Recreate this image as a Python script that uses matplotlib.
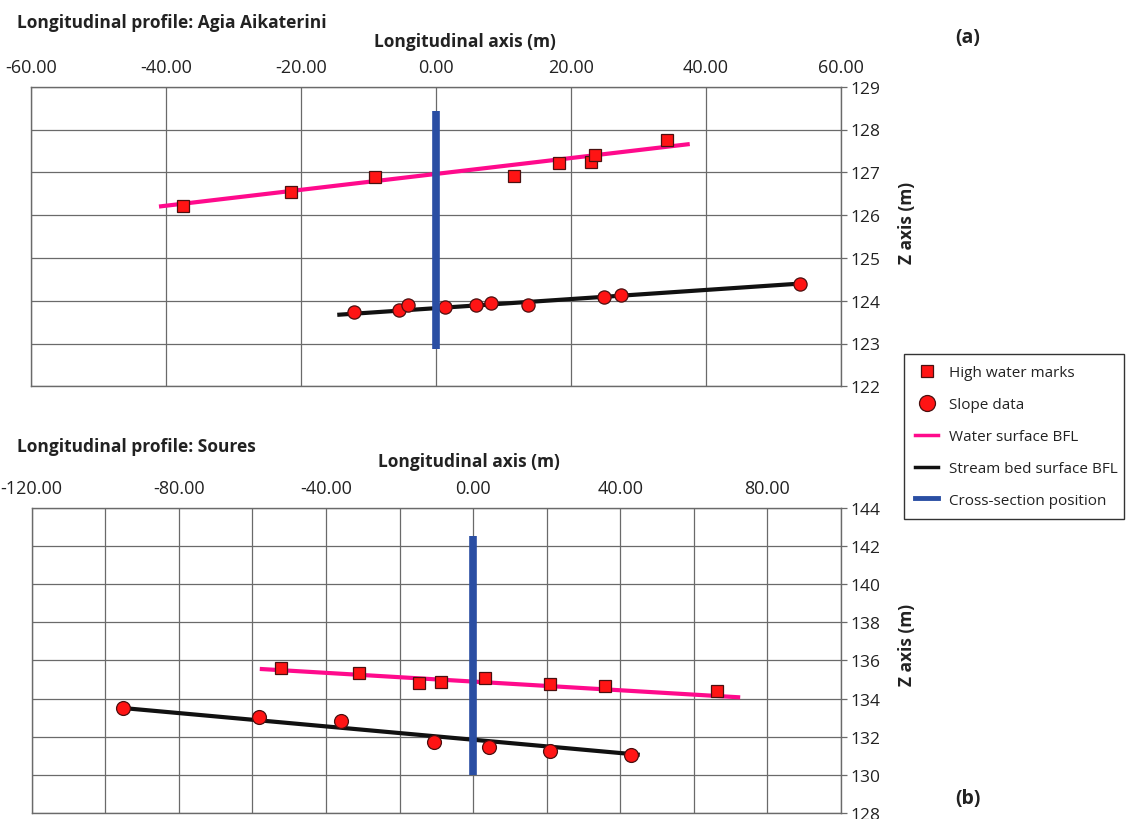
import matplotlib
matplotlib.use("Agg")
import matplotlib.pyplot as plt
from matplotlib.lines import Line2D
from matplotlib.ticker import FormatStrFormatter

plt.rcParams['font.family'] = ['Open Sans', 'DejaVu Sans']
plt.rcParams['axes.unicode_minus'] = False

# Agia Aikaterini (a)
hwm_a_x = [-37.5, -21.5, -9.0, 11.6, 18.3, 23.0, 23.5, 34.3]
hwm_a_z = [126.21, 126.55, 126.90, 126.91, 127.22, 127.23, 127.40, 127.76]
slope_a_x = [-12.1, -5.5, -4.1, 1.4, 5.9, 8.2, 13.6, 24.9, 27.4, 53.9]
slope_a_z = [123.73, 123.79, 123.90, 123.85, 123.90, 123.95, 123.90, 124.08, 124.13, 124.38]
ws_a_x = [-41.0, 37.6]
ws_a_z = [126.20, 127.66]
bed_a_x = [-14.6, 54.9]
bed_a_z = [123.67, 124.41]
xs_a_z = [122.87, 128.44]

# Soures (b)
hwm_b_x = [-52.3, -31.0, -14.7, -8.8, 3.1, 20.8, 35.8, 66.2]
hwm_b_z = [135.58, 135.32, 134.80, 134.85, 135.06, 134.74, 134.64, 134.41]
slope_b_x = [-95.1, -58.2, -35.8, -10.7, 4.3, 20.8, 43.0]
slope_b_z = [133.50, 133.01, 132.80, 131.70, 131.44, 131.26, 131.05]
ws_b_x = [-58.0, 72.6]
ws_b_z = [135.55, 134.06]
bed_b_x = [-95.1, 45.3]
bed_b_z = [133.50, 131.05]
xs_b_z = [130.0, 142.5]

RED = '#ff1414'
EDGE = '#4a1010'
PINK = '#ff0a8c'
BLUE = '#2a4ea3'
GRID = '#6a6a6a'

W, H = 1126, 820
fig = plt.figure(figsize=(W / 100, H / 100), dpi=100, facecolor='white')


def px_axes(left, top, right, bottom):
    return fig.add_axes([left / W, 1 - bottom / H, (right - left) / W, (bottom - top) / H])


def style_axes(ax, xlim, ylim, xmajor, xminor, yticks):
    ax.set_xlim(*xlim)
    ax.set_ylim(*ylim)
    ax.xaxis.tick_top()
    ax.yaxis.tick_right()
    ax.set_xticks(xmajor)
    ax.set_xticks(xminor, minor=True)
    ax.set_yticks(yticks)
    ax.xaxis.set_major_formatter(FormatStrFormatter('%.2f'))
    ax.tick_params(axis='x', which='both', length=0, pad=8, labelsize=13, colors='#222222')
    ax.tick_params(axis='y', length=4, width=0.9, color=GRID, pad=3, labelsize=12.5,
                   labelcolor='#222222')
    ax.grid(True, which='both', color=GRID, lw=0.9, zorder=0)
    ax.set_axisbelow(True)
    for s in ax.spines.values():
        s.set_color(GRID)
        s.set_linewidth(1.0)


def draw_profile(ax, hx, hz, sx, sz, wx, wz, bx, bz, xz, sq_ms, ci_ms):
    ax.plot(wx, wz, color=PINK, lw=3.0, solid_capstyle='butt', zorder=2)
    ax.plot(bx, bz, color='#111111', lw=3.0, solid_capstyle='butt', zorder=2)
    ax.plot(hx, hz, 's', ms=sq_ms, mfc=RED, mec=EDGE, mew=0.9, zorder=3)
    ax.plot(sx, sz, 'o', ms=ci_ms, mfc=RED, mec=EDGE, mew=0.9, zorder=3)
    ax.plot([0, 0], xz, color=BLUE, lw=5.5, solid_capstyle='butt', zorder=4)


label_font = dict(fontsize=12.5, fontweight='bold', color='#222222')

# panel (a)
ax1 = px_axes(30.7, 87.7, 841, 387.3)
style_axes(ax1, (-60, 60), (122, 129), range(-60, 61, 20), [], range(122, 130))
draw_profile(ax1, hwm_a_x, hwm_a_z, slope_a_x, slope_a_z, ws_a_x, ws_a_z,
             bed_a_x, bed_a_z, xs_a_z, 9, 9.5)
ax1.set_xlabel('Longitudinal axis (m)', **label_font)
ax1.xaxis.set_label_position('top')
ax1.xaxis.set_label_coords((465 - 30.7) / 810.3, 1 + (87.7 - 41.7) / 299.6)
ax1.xaxis.label.set_va('center')
ax1.set_ylabel('Z axis (m)', **label_font)
ax1.yaxis.set_label_position('right')
ax1.yaxis.set_label_coords((907 - 30.7) / 810.3, (387.3 - 223) / 299.6)
ax1.yaxis.label.set_va('center')

# panel (b)
ax2 = px_axes(31.7, 508.7, 841, 814)
style_axes(ax2, (-120, 100), (128, 144), range(-120, 81, 40), range(-100, 101, 40),
           range(128, 145, 2))
draw_profile(ax2, hwm_b_x, hwm_b_z, slope_b_x, slope_b_z, ws_b_x, ws_b_z,
             bed_b_x, bed_b_z, xs_b_z, 8.3, 10)
ax2.set_xlabel('Longitudinal axis (m)', **label_font)
ax2.xaxis.set_label_position('top')
ax2.xaxis.set_label_coords((469 - 31.7) / 809.3, 1 + (508.7 - 461.7) / 305.3)
ax2.xaxis.label.set_va('center')
ax2.set_ylabel('Z axis (m)', **label_font)
ax2.yaxis.set_label_position('right')
ax2.yaxis.set_label_coords((907 - 31.7) / 809.3, (814 - 644.5) / 305.3)
ax2.yaxis.label.set_va('center')

# titles and panel letters
fig.text(17 / W, 1 - 22.7 / H, 'Longitudinal profile: Agia Aikaterini', ha='left', va='center',
         **label_font)
fig.text(17 / W, 1 - 446.7 / H, 'Longitudinal profile: Soures', ha='left', va='center',
         **label_font)
fig.text(968 / W, 1 - 38.3 / H, '(a)', ha='center', va='center', fontsize=14,
         fontweight='bold', color='#222222')
fig.text(968 / W, 1 - 799.3 / H, '(b)', ha='center', va='center', fontsize=14,
         fontweight='bold', color='#222222')

# shared legend
handles = [
    Line2D([], [], ls='none', marker='s', ms=8, mfc=RED, mec=EDGE, mew=0.9),
    Line2D([], [], ls='none', marker='o', ms=11.5, mfc=RED, mec=EDGE, mew=0.9),
    Line2D([], [], color=PINK, lw=2.5),
    Line2D([], [], color='#111111', lw=2.5),
    Line2D([], [], color=BLUE, lw=3.5),
]
labels = ['High water marks', 'Slope data', 'Water surface BFL',
          'Stream bed surface BFL', 'Cross-section position']
leg = fig.legend(handles, labels, loc='upper left',
                 bbox_to_anchor=(904 / W, 1 - 355 / H - 0.01, 220 / W, 0.01), mode='expand',
                 fontsize=11, frameon=True, fancybox=False, framealpha=1,
                 edgecolor='#333333', borderpad=0.75, labelspacing=1.1,
                 handlelength=1.5, handletextpad=0.7, borderaxespad=0)
leg.get_frame().set_linewidth(1.0)
for t in leg.get_texts():
    t.set_color('#222222')

fig.savefig('out.png', dpi=100, facecolor='white')
